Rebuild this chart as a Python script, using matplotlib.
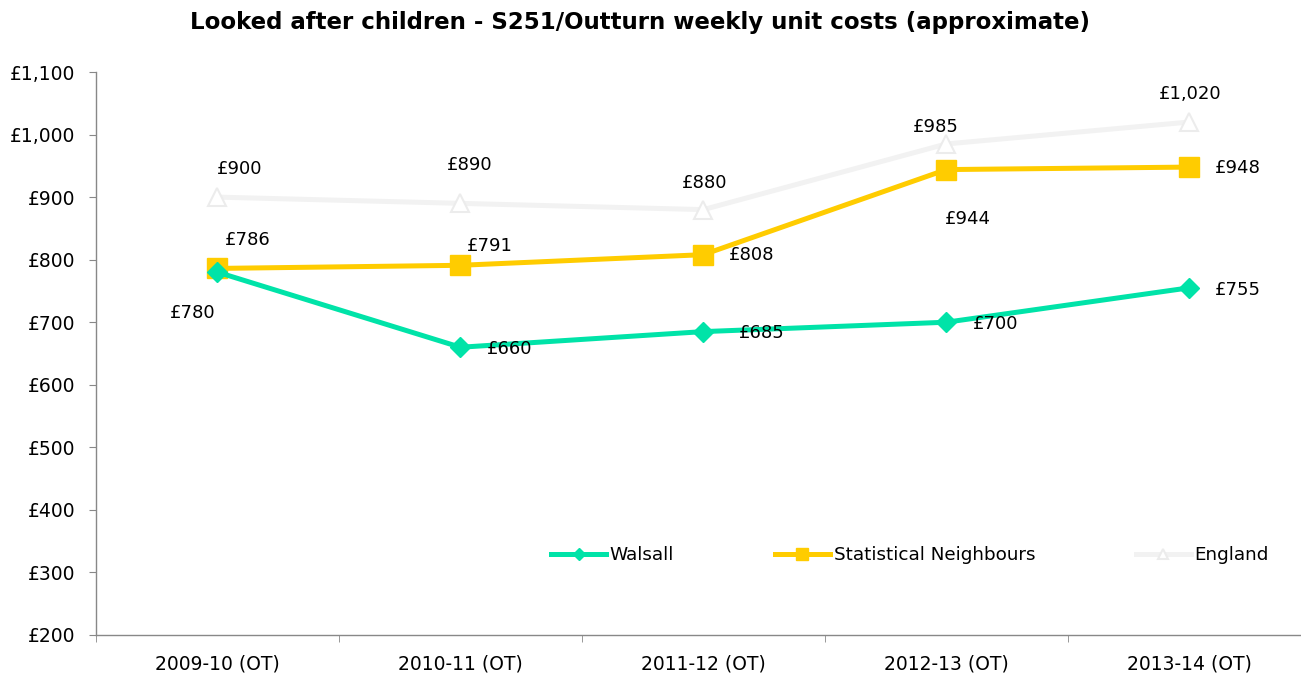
import matplotlib
matplotlib.use("Agg")
import matplotlib.pyplot as plt
import numpy as np

categories = ["2009-10 (OT)", "2010-11 (OT)", "2011-12 (OT)", "2012-13 (OT)", "2013-14 (OT)"]
walsall = [780, 660, 685, 700, 755]
stat_neighbours = [786, 791, 808, 944, 948]
england = [900, 890, 880, 985, 1020]
y_ticks = [200, 300, 400, 500, 600, 700, 800, 900, 1000, 1100]

# label offsets in pixels (dx, dy)
walsall_off = [(-25, -41), (49, -2), (58, -1), (49, -2), (49, -2)]
sn_off = [(30, 28), (29, 19), (48, 0), (22, -49), (49, -1)]
eng_off = [(22, 28), (9, 38), (1, 27), (-10, 17), (1, 28)]

W, H = 1301, 677
fig = plt.figure(figsize=(W / 100, H / 100), dpi=100)
ax = fig.add_axes([96 / W, (H - 635) / H, (W - 96) / W, (635 - 72) / H])

x = np.arange(len(categories))
c_w = "#00e3a8"
c_sn = "#ffcc00"
c_en = "#f2f2f2"

ax.plot(x, england, color=c_en, lw=3.6, marker="^", ms=13, mfc="white",
        mec="#ececec", mew=1.5, label="England", zorder=2)
ax.plot(x, stat_neighbours, color=c_sn, lw=3.6, marker="s", ms=14,
        label="Statistical Neighbours", zorder=3)
ax.plot(x, walsall, color=c_w, lw=3.6, marker="D", ms=10,
        label="Walsall", zorder=4)

def fmt(v):
    return "£{:,}".format(v)

for vals, offs in ((walsall, walsall_off), (stat_neighbours, sn_off), (england, eng_off)):
    for xi, v, (dx, dy) in zip(x, vals, offs):
        ax.annotate(fmt(v), (xi, v), xytext=(dx, dy), textcoords="offset pixels",
                    ha="center", va="center", fontsize=13, color="black", zorder=10)

ax.set_ylim(200, 1100)
ax.set_xlim(-0.5, 4.46)
ax.set_yticks(y_ticks)
ax.set_yticklabels([fmt(v) for v in y_ticks], fontsize=13.5)
ax.set_xticks(x)
ax.set_xticklabels(categories, fontsize=13.5)
ax.set_xticks(np.arange(-0.5, 4.5, 1.0), minor=True)
ax.tick_params(axis="x", which="major", length=0, pad=14)
ax.tick_params(axis="x", which="minor", length=5, color="#888888")
ax.tick_params(axis="y", length=5, color="#888888", pad=10)

for s in ("top", "right"):
    ax.spines[s].set_visible(False)
for s in ("left", "bottom"):
    ax.spines[s].set_color("#888888")
    ax.spines[s].set_linewidth(1)

handles, labels = ax.get_legend_handles_labels()
order = [2, 1, 0]
leg = ax.legend([handles[i] for i in order], [labels[i] for i in order],
                ncol=3, frameon=False, fontsize=13.2,
                loc="center", bbox_to_anchor=((910 - 96) / (W - 96), (635 - 555) / (635 - 72)),
                handlelength=3.0, handletextpad=0.2, columnspacing=5.5,
                markerscale=0.6)

fig.text(640 / W, 1 - 22 / H, "Looked after children - S251/Outturn weekly unit costs (approximate)",
         ha="center", va="center", fontsize=16.5, fontweight="bold")

fig.savefig("out.png", dpi=100)
